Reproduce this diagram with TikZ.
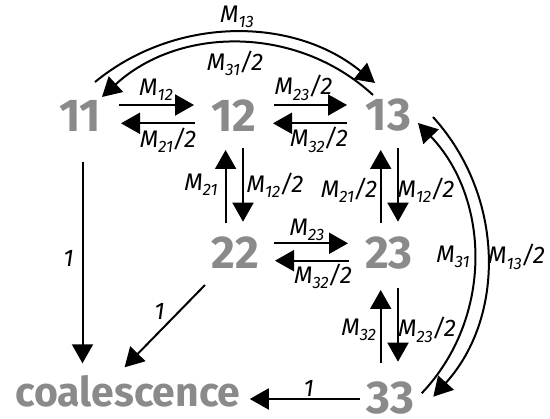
\documentclass[tikz,border=0pt]{standalone}
\usepackage{fontspec}
\setmainfont{Fira Sans}
\usetikzlibrary{arrows.meta,calc}
\definecolor{numgray}{RGB}{138,138,138}
\newcommand{\lbl}[2]{M\raisebox{-0.22em}{\fontsize{16.5}{16.5}\selectfont #1}#2}
\begin{document}
\begin{tikzpicture}[x=1pt,y=-1pt,
  num/.style={text=numgray,font=\fontsize{46}{46}\selectfont\bfseries,inner sep=0pt},
  lab/.style={font=\fontsize{24}{24}\selectfont\itshape,inner sep=0pt},
  arr/.style={line width=2pt,-{Triangle[length=19pt,width=21pt]}}]
\useasboundingbox (0,0) rectangle (550,419);
% states
\node[num] (n11) at (80,115.5) {11};
\node[num] (n12) at (234,115.5) {12};
\node[num] (n13) at (388.5,115.5) {13};
\node[num] (n22) at (235,253) {22};
\node[num] (n23) at (389,253) {23};
\node[num] (n33) at (390,398) {33};
\node[num,font=\fontsize{41}{41}\selectfont\bfseries,anchor=base west] (coal) at (15,407) {coalescence};
% row 1
\draw[arr] ($(n11)+(39,-10.5)$) -- ($(n12)+(-40,-10.5)$);
\draw[arr] ($(n12)+(-39,7.8)$) -- ($(n11)+(41,7.8)$);
\draw[arr] ($(n12)+(40,-10.5)$) -- ($(n13)+(-41.5,-10.5)$);
\draw[arr] ($(n13)+(-41.5,7.8)$) -- ($(n12)+(39,7.8)$);
% verticals 12-22, 13-23
\draw[arr] ($(n22)+(-9.4,-29.7)$) -- ($(n12)+(-8.4,34.5)$);
\draw[arr] ($(n12)+(9,32.8)$) -- ($(n22)+(8,-31.3)$);
\draw[arr] ($(n23)+(-8.3,-29.7)$) -- ($(n13)+(-7.8,34.5)$);
\draw[arr] ($(n13)+(9.5,32.8)$) -- ($(n23)+(9,-31.3)$);
% row 2
\draw[arr] ($(n22)+(38.7,-9.7)$) -- ($(n23)+(-41,-9.7)$);
\draw[arr] ($(n23)+(-40,7.7)$) -- ($(n22)+(40,7.7)$);
% 23-33
\draw[arr] ($(n33)+(-9.3,-34.7)$) -- ($(n23)+(-8.3,37)$);
\draw[arr] ($(n23)+(9,35.3)$) -- ($(n33)+(8,-36.3)$);
% coalescence
\draw[arr] ($(n11)+(2.5,46.2)$) -- (82.5,363.3) coordinate (t1);
\draw[arr] ($(n22)+(-30,32)$) -- (124.6,367.3) coordinate (t2);
\draw[arr] ($(n33)+(-30.4,1)$) -- ($(coal.base east)+(9,-8)$);
% top arcs
\draw[arr] ($(n11)+(15,-33.5)$) .. controls (176,15.5) and (294,16.5) .. ($(n13)+(-13.5,-32.5)$);
\draw[arr] ($(n13)+(-15.5,-20.5)$) .. controls (296.5,24.4) and (178.5,26.4) .. ($(n11)+(22,-18.5)$);
% right arcs
\draw[arr] ($(n33)+(31.7,-4.7)$) .. controls (493.7,317.4) and (490,198.6) .. ($(n13)+(29.5,7.5)$);
\draw[arr] ($(n13)+(44.5,1.5)$) .. controls (505.1,196.5) and (505.4,317.2) .. ($(n33)+(43.3,-1.3)$);
% labels
\node[lab] (l1) at (237,16.7) {\lbl{13}{}};
\node[lab] (l2) at (235,63.3) {\lbl{31}{/2}};
\node[lab] (l3) at (156,90) {\lbl{12}{}};
\node[lab] (l4) at (168,140) {\lbl{21}{/2}};
\node[lab] (l5) at (303.5,88) {\lbl{23}{/2}};
\node[lab] (l6) at (319,140) {\lbl{32}{/2}};
\node[lab] (l7) at (201,185) {\lbl{21}{}};
\node[lab] (l8) at (275,185) {\lbl{12}{/2}};
\node[lab] (l9) at (349,190) {\lbl{21}{/2}};
\node[lab] (l10) at (426,190) {\lbl{12}{/2}};
\node[lab] (l11) at (307,230) {\lbl{23}{}};
\node[lab] (l12) at (323,276.7) {\lbl{32}{/2}};
\node[lab] (l13) at (358.6,330) {\lbl{32}{}};
\node[lab] (l14) at (427,330) {\lbl{23}{/2}};
\node[lab] (l15) at (453,257) {\lbl{31}{}};
\node[lab] (l16) at (516.5,257) {\lbl{13}{/2}};
\node[lab] (o1) at (68.4,258.3) {1};
\node[lab] (o2) at (159.6,311.7) {1};
\node[lab] (o3) at (308.8,388.3) {1};
\end{tikzpicture}
\end{document}
